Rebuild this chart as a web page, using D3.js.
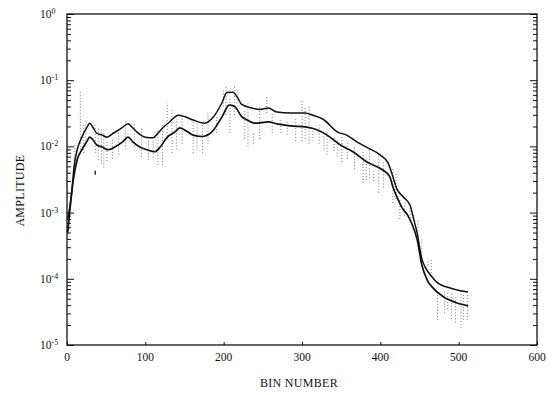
<!DOCTYPE html>
<html>
<head>
<meta charset="utf-8">
<script src="https://cdn.jsdelivr.net/npm/d3@7/dist/d3.min.js"></script>
<style>
  body { margin: 0; background: #fff; }
  text { font-family: "Liberation Serif", "DejaVu Serif", serif; fill: #111; }
</style>
</head>
<body>
<div id="chart"></div>
<script>
// Tick values
const xTickValues = [0, 100, 200, 300, 400, 500, 600];
const yDecades = [0, -1, -2, -3, -4, -5];

// Upper smoothed curve (bin, amplitude)
const upperBins = [1, 6, 9, 13, 19, 25, 29, 33, 38, 45, 51, 59, 70, 78, 83, 89, 100, 110, 116, 123, 131, 142, 150, 161, 176, 186, 198, 204, 212, 218, 223, 236, 246, 257, 268, 285, 304, 314, 327, 345, 357, 370, 384, 400, 410, 416, 421, 429, 438, 442, 447, 453, 458, 465, 472, 490, 502, 512];
const upperAmp = [7.9e-4, 2.0e-3, 4.9e-3, 8.9e-3, 1.38e-2, 1.9e-2, 2.24e-2, 1.95e-2, 1.58e-2, 1.48e-2, 1.38e-2, 1.58e-2, 1.9e-2, 2.19e-2, 1.95e-2, 1.66e-2, 1.38e-2, 1.35e-2, 1.58e-2, 1.95e-2, 2.34e-2, 2.95e-2, 2.82e-2, 2.5e-2, 2.24e-2, 2.7e-2, 4.6e-2, 6.5e-2, 6.6e-2, 5.4e-2, 4.3e-2, 3.8e-2, 3.6e-2, 3.8e-2, 3.3e-2, 3.2e-2, 3.2e-2, 2.95e-2, 2.57e-2, 1.66e-2, 1.48e-2, 1.17e-2, 9.5e-3, 7.4e-3, 5.6e-3, 3.5e-3, 2.3e-3, 1.74e-3, 1.29e-3, 8.5e-4, 4.9e-4, 2.0e-4, 1.45e-4, 1.1e-4, 8.9e-5, 7.2e-5, 6.6e-5, 6.3e-5];

// Lower smoothed curve (bin, amplitude)
const lowerBins = [1, 4, 8, 13, 19, 25, 29, 33, 38, 45, 52, 61, 71, 78, 84, 93, 102, 112, 119, 128, 138, 144, 154, 161, 172, 185, 198, 207, 214, 223, 230, 240, 257, 268, 285, 306, 319, 332, 349, 365, 383, 403, 412, 416, 421, 428, 435, 440, 447, 453, 460, 468, 480, 498, 512];
const lowerAmp = [5.0e-4, 1.2e-3, 3.1e-3, 6.3e-3, 8.9e-3, 1.17e-2, 1.38e-2, 1.26e-2, 1.05e-2, 9.8e-3, 8.9e-3, 9.8e-3, 1.17e-2, 1.38e-2, 1.17e-2, 9.8e-3, 8.9e-3, 8.3e-3, 9.8e-3, 1.38e-2, 1.66e-2, 1.9e-2, 1.66e-2, 1.48e-2, 1.41e-2, 1.66e-2, 2.82e-2, 4.2e-2, 4.0e-2, 2.82e-2, 2.5e-2, 2.24e-2, 2.34e-2, 2.19e-2, 2.04e-2, 1.95e-2, 1.78e-2, 1.48e-2, 1.05e-2, 8.3e-3, 5.8e-3, 4.4e-3, 3.5e-3, 2.45e-3, 1.74e-3, 1.17e-3, 9.1e-4, 6.9e-4, 3.9e-4, 1.62e-4, 9.5e-5, 7.1e-5, 5.4e-5, 4.3e-5, 3.9e-5];

// Raw scatter (dotted vertical spans): bin, low, high
const noiseBins = [10, 17, 21, 24, 36, 40, 44, 47, 51, 58, 66, 75, 86, 95, 104, 110, 116, 122, 128, 134, 140, 147, 161, 166, 173, 180, 191, 200, 203, 208, 214, 218, 227, 231, 238, 246, 255, 262, 273, 281, 292, 300, 304, 309, 314, 322, 328, 332, 341, 345, 351, 358, 367, 378, 382, 386, 391, 398, 404, 416, 420, 425, 431, 438, 448, 453, 461, 465, 473, 482, 486, 491, 496, 503, 506, 511];
const noiseLow = [4.9e-3, 8.9e-3, 7.9e-3, 1.0e-2, 8e-3, 6.3e-3, 5.5e-3, 4.8e-3, 6e-3, 6.5e-3, 7.5e-3, 9e-3, 1e-2, 7e-3, 6.3e-3, 6.8e-3, 5.2e-3, 5.2e-3, 1.3e-2, 7.9e-3, 9e-3, 1.1e-2, 7.9e-3, 9e-3, 7.9e-3, 1.1e-2, 1.6e-2, 4.0e-2, 3.0e-2, 1.6e-2, 3e-2, 4.0e-2, 1.3e-2, 1.0e-2, 1.1e-2, 1.3e-2, 3.2e-2, 1.6e-2, 1.6e-2, 1.5e-2, 1.2e-2, 1.2e-2, 1.3e-2, 1.1e-2, 1.2e-2, 1.1e-2, 9e-3, 7.5e-3, 8.5e-3, 7e-3, 5.8e-3, 6.5e-3, 4.5e-3, 2.8e-3, 3.1e-3, 3.3e-3, 3.0e-3, 2.0e-3, 2.4e-3, 1.4e-3, 1.6e-3, 8e-4, 9e-4, 7.5e-4, 3.9e-4, 2.5e-4, 1.6e-4, 1.1e-4, 2.4e-5, 3e-5, 3.5e-5, 2.5e-5, 2.2e-5, 1.8e-5, 2.4e-5, 2.4e-5];
const noiseHigh = [1.1e-2, 7.1e-2, 2.2e-2, 2.4e-2, 2.2e-2, 2.0e-2, 1.9e-2, 1.6e-2, 1.2e-2, 1.3e-2, 1.9e-2, 2.4e-2, 2.3e-2, 1.9e-2, 1.3e-2, 1.2e-2, 1.7e-2, 2.1e-2, 4.6e-2, 3.5e-2, 2.6e-2, 3.2e-2, 2.4e-2, 2.2e-2, 2.1e-2, 3.2e-2, 2.8e-2, 7.1e-2, 7.9e-2, 5.6e-2, 8.5e-2, 7.1e-2, 3.5e-2, 4.5e-2, 1.6e-2, 4.0e-2, 5.6e-2, 3.2e-2, 2.6e-2, 2.4e-2, 2.7e-2, 5.0e-2, 3.8e-2, 4.2e-2, 1.8e-2, 2.1e-2, 1.6e-2, 1.7e-2, 1.4e-2, 1.3e-2, 1.5e-2, 1.2e-2, 1.0e-2, 8.5e-3, 6.6e-3, 9e-3, 4.2e-3, 7.5e-3, 6e-3, 4.7e-3, 3.9e-3, 1.6e-3, 1.5e-3, 1.2e-3, 7.8e-4, 4e-4, 2e-4, 1.9e-4, 6.2e-5, 6.5e-5, 6.2e-5, 6e-5, 5.5e-5, 6.5e-5, 6.0e-5, 6.2e-5];

// isolated mark below the curves
const outlierBins = [36];
const outlierAmp = [4.0e-3];

const margin = { top: 14, right: 21, bottom: 50, left: 67 };
const width = 558 - margin.left - margin.right;
const height = 395 - margin.top - margin.bottom;

const svg = d3.select("#chart").append("svg")
    .attr("width", 558)
    .attr("height", 395)
    .append("g")
    .attr("transform", `translate(${margin.left},${margin.top})`);

const x = d3.scaleLinear().domain([0, 600]).range([0, width]);
const y = d3.scaleLog().domain([1e-5, 1]).range([height, 0]);

// minor + major tick values for the log axis
const minorTicks = [];
yDecades.slice(1).forEach(e => {
    for (let k = 2; k <= 9; k++) minorTicks.push(k * Math.pow(10, e));
});
const majorTicks = yDecades.map(e => Math.pow(10, e));

// frame
svg.append("rect")
    .attr("width", width).attr("height", height)
    .attr("fill", "none").attr("stroke", "#111").attr("stroke-width", 1.3);

// left axis ticks (inward)
const leftMinor = svg.append("g").call(d3.axisRight(y).tickValues(minorTicks).tickSize(4).tickFormat(""));
const leftMajor = svg.append("g").call(d3.axisRight(y).tickValues(majorTicks).tickSize(7).tickFormat(""));
// right axis ticks (inward)
const rightMinor = svg.append("g").attr("transform", `translate(${width},0)`)
    .call(d3.axisLeft(y).tickValues(minorTicks).tickSize(4).tickFormat(""));
const rightMajor = svg.append("g").attr("transform", `translate(${width},0)`)
    .call(d3.axisLeft(y).tickValues(majorTicks).tickSize(7).tickFormat(""));
// bottom ticks (inward)
const bottom = svg.append("g").attr("transform", `translate(0,${height})`)
    .call(d3.axisTop(x).tickValues(xTickValues).tickSize(3).tickFormat(""));

svg.selectAll(".domain").remove();
svg.selectAll(".tick line").attr("stroke", "#111").attr("stroke-width", 1);

// x tick labels
svg.selectAll(".xlab")
    .data(xTickValues)
    .enter().append("text")
    .attr("class", "xlab")
    .attr("x", d => x(d))
    .attr("y", height + 16)
    .attr("text-anchor", "middle")
    .style("font-size", "11.5px")
    .text(d => d);

// y tick labels with superscript exponents
const ylab = svg.selectAll(".ylab")
    .data(yDecades)
    .enter().append("text")
    .attr("class", "ylab")
    .attr("x", -27)
    .attr("y", d => y(Math.pow(10, d)) + 4)
    .style("font-size", "11.5px");
ylab.append("tspan").text("10");
ylab.append("tspan")
    .attr("dy", -4)
    .style("font-size", "8px")
    .text(d => d === 0 ? "0" : "-" + Math.abs(d));

// axis titles
svg.append("text")
    .attr("x", x(300) - 3)
    .attr("y", height + 42)
    .attr("text-anchor", "middle")
    .style("font-size", "12px")
    .style("letter-spacing", "0.3px")
    .text("BIN NUMBER");

svg.append("text")
    .attr("transform", `translate(${-margin.left + 24},${y(1e-3) - 22}) rotate(-90)`)
    .attr("text-anchor", "middle")
    .style("font-size", "12px")
    .style("letter-spacing", "0.3px")
    .text("AMPLITUDE");

// dotted scatter
const noise = noiseBins.map((b, i) => ({ bin: b, lo: noiseLow[i], hi: noiseHigh[i] }));
svg.selectAll(".noise")
    .data(noise)
    .enter().append("line")
    .attr("class", "noise")
    .attr("x1", d => x(d.bin)).attr("x2", d => x(d.bin))
    .attr("y1", d => y(d.lo)).attr("y2", d => y(d.hi))
    .attr("stroke", "#777")
    .attr("stroke-width", 1)
    .attr("stroke-dasharray", "1,2");

svg.selectAll(".outlier")
    .data(outlierBins.map((b, i) => ({ bin: b, amp: outlierAmp[i] })))
    .enter().append("line")
    .attr("x1", d => x(d.bin)).attr("x2", d => x(d.bin))
    .attr("y1", d => y(d.amp) - 2).attr("y2", d => y(d.amp) + 2)
    .attr("stroke", "#111").attr("stroke-width", 1.3);

// curves
const line = d3.line()
    .x(d => x(d[0]))
    .y(d => y(d[1]))
    .curve(d3.curveMonotoneX);

svg.append("path")
    .datum(upperBins.map((b, i) => [b, upperAmp[i]]))
    .attr("d", line)
    .attr("fill", "none")
    .attr("stroke", "#111")
    .attr("stroke-width", 1.5);

svg.append("path")
    .datum(lowerBins.map((b, i) => [b, lowerAmp[i]]))
    .attr("d", line)
    .attr("fill", "none")
    .attr("stroke", "#111")
    .attr("stroke-width", 1.7);
</script>
</body>
</html>
